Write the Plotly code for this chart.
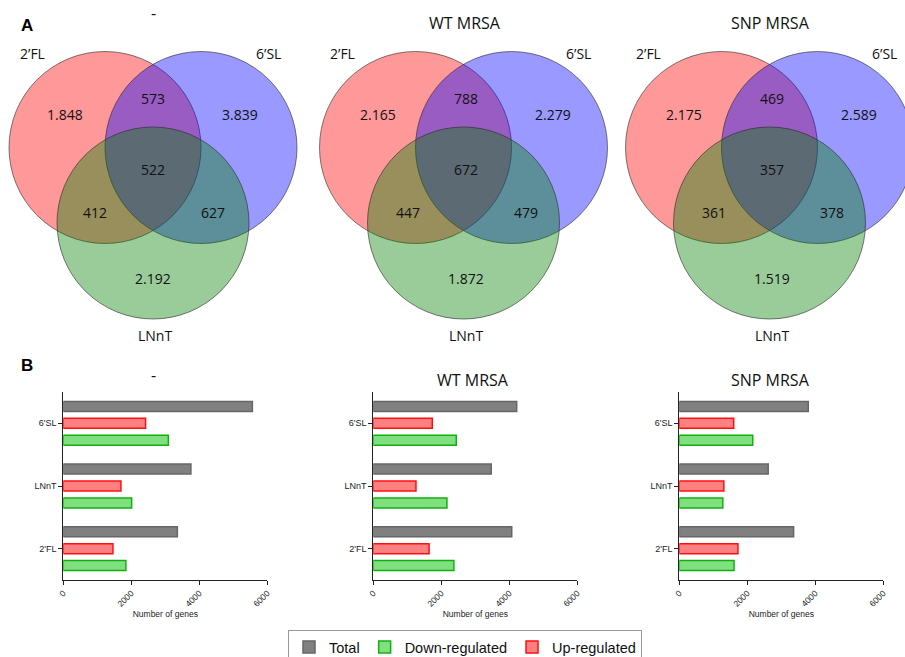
import plotly.graph_objects as go

W, H = 905, 657

# ---------------- data ----------------
venn_titles = ["-", "WT MRSA", "SNP MRSA"]
set_names = ["2’FL", "6’SL", "LNnT"]
only_2fl = ["1.848", "2.165", "2.175"]
only_6sl = ["3.839", "2.279", "2.589"]
only_lnnt = ["2.192", "1.872", "1.519"]
fl_sl = ["573", "788", "469"]
fl_lnnt = ["412", "447", "361"]
sl_lnnt = ["627", "479", "378"]
all_three = ["522", "672", "357"]

bar_titles = ["-", "WT MRSA", "SNP MRSA"]
categories = ["2'FL", "LNnT", "6'SL"]
total_vals = [[3355, 3753, 5561], [4072, 3470, 4218], [3362, 2615, 3793]]
down_vals = [[1840, 2010, 3090], [2370, 2165, 2440], [1610, 1280, 2160]]
up_vals = [[1460, 1695, 2420], [1640, 1255, 1735], [1725, 1310, 1600]]
x_ticks = [0, 2000, 4000, 6000]

# ---------------- helpers ----------------
def px(x):
    return x / W

def py(y):
    return 1 - y / H

fig = go.Figure()

# ---------------- Venn diagrams (layout shapes + text) ----------------
venn_cx = [153, 463.5, 769.5]
R = 96
CY = 147.5
circ_defs = [(-48, 0, "rgba(255,0,0,0.4)"),
             (48, 0, "rgba(0,0,255,0.4)"),
             (0, 75.5, "rgba(0,128,0,0.4)")]
TXT = dict(family="Open Sans, Noto Sans, sans-serif", size=14, color="#111")
shapes = []
ann = []
for i, cx in enumerate(venn_cx):
    for dx, dy, col in circ_defs:
        x0, x1 = cx + dx - R, cx + dx + R
        y0, y1 = CY + dy - R, CY + dy + R
        shapes.append(dict(type="circle", xref="paper", yref="paper",
                           x0=px(x0), x1=px(x1), y0=py(y1), y1=py(y0),
                           fillcolor=col, line=dict(color="rgba(40,40,40,0.75)", width=0.8),
                           layer="above"))
    o = 2 if i else 0
    region_pos = [
        (only_2fl[i], -88 + o, 115), (fl_sl[i], o, 98), (only_6sl[i], 87 + o, 115),
        (all_three[i], o, 169), (fl_lnnt[i], -58 + o, 212), (sl_lnnt[i], 60 + o, 212),
        (only_lnnt[i], o, 279),
    ]
    for t, dx, y in region_pos:
        ann.append(dict(text=t, x=px(cx + dx), y=py(y), xref="paper", yref="paper",
                        showarrow=False, font=TXT, xanchor="center", yanchor="middle"))
    for t, dx, y in [(set_names[0], -121, 53), (set_names[1], 115, 53), (set_names[2], 2, 335)]:
        ann.append(dict(text=t, x=px(cx + dx), y=py(y), xref="paper", yref="paper",
                        showarrow=False, font=TXT, xanchor="center", yanchor="middle"))
    ann.append(dict(text=venn_titles[i], x=px(cx + (0 if i == 0 else 1)), y=py(23 if i else 13),
                    xref="paper", yref="paper", showarrow=False,
                    font=dict(family="Open Sans, sans-serif", size=16, color="#111"),
                    xanchor="center", yanchor="middle"))

ann.append(dict(text="<b>A</b>", x=px(27), y=py(25), xref="paper", yref="paper",
                xanchor="center", yanchor="middle",
                showarrow=False, font=dict(family="Liberation Sans, Arial", size=17, color="#000")))
ann.append(dict(text="<b>B</b>", x=px(27), y=py(365), xref="paper", yref="paper",
                xanchor="center", yanchor="middle",
                showarrow=False, font=dict(family="Liberation Sans, Arial", size=17, color="#000")))

# ---------------- Bar charts ----------------
bar_x0 = [63.3, 373.3, 679.3]
BW = 204
Y_TOP, Y_BOT = 392, 580
AXF = dict(family="Liberation Sans, Arial, sans-serif", size=8.5, color="#222")

for i in range(3):
    xa = "x" if i == 0 else f"x{i+1}"
    ya = "y" if i == 0 else f"y{i+1}"
    show = i == 0
    fig.add_trace(go.Bar(y=categories, x=down_vals[i], orientation="h", name="Down-regulated",
                         marker=dict(color="#80e080", line=dict(color="#10b010", width=1.5)),
                         xaxis=xa, yaxis=ya, showlegend=show, legendrank=2, legendgroup="d"))
    fig.add_trace(go.Bar(y=categories, x=up_vals[i], orientation="h", name="Up-regulated",
                         marker=dict(color="#ff8080", line=dict(color="#ff1010", width=1.5)),
                         xaxis=xa, yaxis=ya, showlegend=show, legendrank=3, legendgroup="u"))
    fig.add_trace(go.Bar(y=categories, x=total_vals[i], orientation="h", name="Total",
                         marker=dict(color="#808080", line=dict(color="#666666", width=1.5)),
                         xaxis=xa, yaxis=ya, showlegend=show, legendrank=1, legendgroup="t"))
    xkey = "xaxis" if i == 0 else f"xaxis{i+1}"
    ykey = "yaxis" if i == 0 else f"yaxis{i+1}"
    fig.layout[xkey] = dict(domain=[px(bar_x0[i]), px(bar_x0[i] + BW)], anchor=ya,
                            range=[0, 6000], tickvals=x_ticks, ticks="outside", ticklen=4,
                            tickcolor="#222", showline=True, linecolor="#222", linewidth=1,
                            showgrid=False, zeroline=False, tickangle=-45, tickfont=AXF,
                            automargin=False,
                            title=dict(text="Number of genes", font=dict(family="Liberation Sans, Arial", size=8.5, color="#222"), standoff=3))
    fig.layout[ykey] = dict(domain=[py(Y_BOT), py(Y_TOP)], anchor=xa, type="category",
                            categoryorder="array", categoryarray=categories, automargin=False,
                            range=[-0.5, 2.5], ticks="outside", ticklen=4, tickcolor="#222",
                            showline=True, linecolor="#222", linewidth=1, showgrid=False,
                            zeroline=False, tickfont=dict(family="Liberation Sans, Arial", size=9, color="#222"))
    tx = [153, 473, 770][i]
    ann.append(dict(text=bar_titles[i], x=px(tx), y=py(380 if i else 375), xref="paper", yref="paper",
                    showarrow=False, font=dict(family="Open Sans, sans-serif", size=16, color="#111"),
                    xanchor="center", yanchor="middle"))

fig.update_layout(
    width=W, height=H, autosize=False,
    margin=dict(l=0, r=0, t=0, b=0, pad=0, autoexpand=False),
    paper_bgcolor="white", plot_bgcolor="rgba(0,0,0,0)",
    barmode="group", bargap=0.19, bargroupgap=0.41,
    shapes=shapes, annotations=ann,
    legend=dict(orientation="h", x=px(465), xanchor="center", y=py(630), yanchor="top",
                bordercolor="#999", borderwidth=1, bgcolor="white",
                font=dict(family="Liberation Sans, Arial", size=14.5, color="#111"),
                traceorder="normal"),
    showlegend=True,
)

fig.write_html("out.html", config={"displayModeBar": False},
               post_script="document.body.style.margin='0';document.body.style.overflow='hidden';")
